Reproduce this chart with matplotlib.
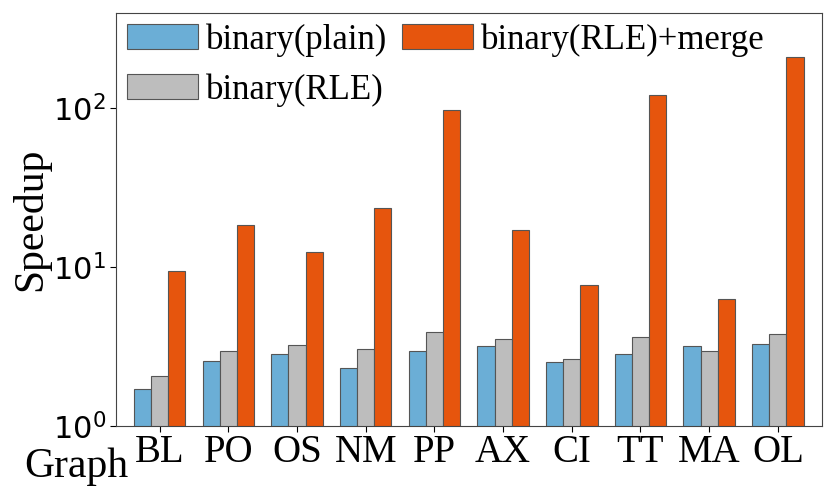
import matplotlib
matplotlib.use("Agg")
import matplotlib.pyplot as plt
import numpy as np

graphs = ["BL", "PO", "OS", "NM", "PP", "AX", "CI", "TT", "MA", "OL"]
plain = [1.70, 2.55, 2.83, 2.32, 2.96, 3.16, 2.53, 2.83, 3.16, 3.26]
rle = [2.05, 2.96, 3.21, 3.04, 3.88, 3.50, 2.62, 3.62, 2.96, 3.77]
merge = [9.48, 18.3, 12.4, 23.5, 97.1, 17.1, 7.74, 122, 6.25, 211]
series_labels = ["binary(plain)", "binary(RLE)", "binary(RLE)+merge"]
colors = ["#6baed6", "#bdbdbd", "#e6550d"]

plt.rcParams['font.family'] = ['Liberation Serif', 'DejaVu Serif']
plt.rcParams['mathtext.fontset'] = 'dejavusans'

fig = plt.figure(figsize=(8.31, 4.95), dpi=100)
ax = fig.add_axes([0.140, 0.140, 0.849, 0.834])

x = np.arange(len(graphs))
w = 0.25
for i, (vals, lab, c) in enumerate(zip([plain, rle, merge], series_labels, colors)):
    ax.bar(x + (i - 1) * w, vals, width=w, color=c, edgecolor="#555555",
           linewidth=0.8, label=lab)

ax.set_yscale('log')
ax.set_ylim(1, 400)
ax.set_xlim(-0.63, 9.64)
ax.set_xticks(x)
ax.set_xticklabels(graphs, fontsize=28)
ax.tick_params(axis='y', labelsize=22, length=4)
ax.tick_params(axis='x', length=4, pad=2)
ax.tick_params(axis='y', which='minor', length=0)
for lab in ax.get_yticklabels():
    lab.set_fontfamily('DejaVu Sans')
for s in ax.spines.values():
    s.set_color('#444444')

ax.set_ylabel('Speedup', fontsize=30, labelpad=2)
ax.set_xlabel('Graph', fontsize=30)
ax.xaxis.set_label_coords(0.0166, -0.1235)
ax.xaxis.label.set_verticalalignment('baseline')
ax.xaxis.label.set_horizontalalignment('right')

ax.legend(ncol=2, loc='upper left', bbox_to_anchor=(0.0, 1.0), frameon=False,
          fontsize=25, handlelength=2.05, handletextpad=0.23, columnspacing=0.43,
          labelspacing=0.48, borderaxespad=0.2, borderpad=0.1, handleheight=0.72)

fig.savefig('out.png', dpi=100)
